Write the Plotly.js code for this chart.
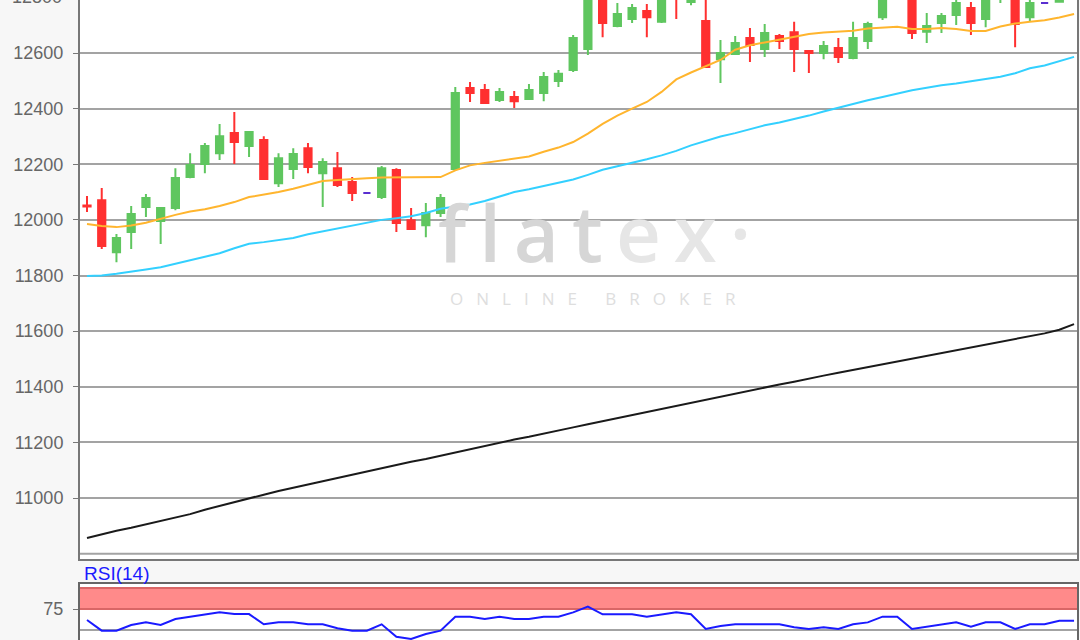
<!DOCTYPE html>
<html>
<head>
<meta charset="utf-8">
<script src="https://cdn.plot.ly/plotly-3.0.1.min.js"></script>
<style>html,body{margin:0;padding:0;background:#f7f7f7;}#chart{width:1080px;height:640px;}</style>
</head>
<body>
<div id="chart"></div>
<script>
// Candle data (index 0..67)
const idx = Array.from({length: 68}, (_, i) => i);
const openV  = [12052,12071,11884,11956,12046,11996,12043,12154,12201,12240,12312,12266,12287,12132,12183,12258,12168,12186,12136,12097,12082,12179,11999,11981,12025,12183,12474,12467,12431,12442,12435,12456,12499,12539,12614,12810,12697,12722,12751,12712,12845,12783,12715,12578,12596,12654,12614,12661,12675,12607,12600,12618,12582,12643,12729,12810,12815,12676,12708,12737,12762,12722,12800,12820,12729,12780,12784,12810];
const highV  = [12086,12115,11949,12050,12093,12046,12186,12240,12276,12345,12388,12316,12301,12240,12258,12276,12222,12244,12154,12097,12194,12186,12043,12061,12093,12478,12496,12489,12474,12463,12489,12532,12539,12665,12830,12830,12780,12776,12776,12815,12860,12810,12800,12647,12661,12690,12704,12668,12712,12607,12643,12654,12712,12712,12815,12850,12830,12744,12744,12795,12783,12820,12840,12830,12795,12780,12820,12840];
const lowV   = [12028,11895,11848,11895,12010,11913,12035,12150,12168,12215,12201,12226,12143,12118,12147,12168,12046,12118,12068,12097,12075,11956,11967,11938,12010,12180,12424,12420,12424,12402,12435,12427,12478,12532,12593,12657,12693,12708,12657,12708,12722,12772,12546,12492,12593,12568,12586,12614,12532,12528,12578,12564,12578,12614,12719,12800,12650,12636,12672,12701,12665,12693,12780,12621,12712,12780,12782,12800];
const closeV = [12048,11906,11935,12021,12079,12043,12151,12197,12266,12301,12280,12316,12147,12222,12237,12190,12208,12125,12097,12097,12186,11989,11967,12025,12079,12456,12456,12420,12460,12427,12467,12514,12525,12654,12805,12708,12740,12762,12729,12805,12800,12800,12550,12600,12636,12629,12672,12643,12614,12600,12625,12586,12654,12704,12805,12840,12672,12697,12733,12780,12708,12805,12830,12704,12780,12780,12810,12830];

// Moving averages
const sma20  = [11985,11978,11974,11980,11990,12005,12018,12030,12038,12050,12064,12082,12090,12100,12112,12125,12140,12143,12147,12150,12152,12153,12154,12154,12154,12178,12196,12205,12212,12220,12228,12245,12260,12280,12310,12345,12375,12400,12424,12460,12505,12530,12553,12575,12612,12628,12638,12648,12660,12668,12674,12678,12680,12688,12692,12694,12686,12686,12690,12686,12679,12679,12695,12706,12712,12718,12728,12740];
const sma50  = [11798,11800,11806,11815,11822,11830,11842,11854,11866,11880,11898,11914,11920,11928,11935,11948,11958,11970,11980,11990,12000,12006,12013,12025,12040,12048,12055,12068,12085,12100,12110,12122,12132,12145,12162,12180,12193,12205,12218,12232,12248,12268,12285,12300,12312,12326,12340,12350,12362,12375,12390,12404,12418,12430,12442,12455,12466,12475,12484,12490,12498,12505,12515,12527,12545,12555,12570,12586];
const sma200 = [10856,10870,10882,10893,10905,10918,10930,10942,10958,10972,10986,11000,11012,11025,11036,11048,11060,11072,11084,11096,11108,11118,11130,11140,11152,11163,11175,11186,11198,11210,11220,11232,11242,11254,11265,11276,11288,11300,11310,11322,11332,11343,11355,11366,11376,11388,11398,11408,11418,11430,11440,11450,11460,11470,11480,11490,11500,11510,11520,11530,11540,11550,11560,11570,11580,11592,11605,11625];

// RSI(14)
const rsi = [61.9,49.2,49.2,56.0,59.1,56.0,63.1,65.9,69.0,71.0,69.0,69.0,56.8,59.1,59.1,56.8,56.8,52.0,49.2,49.2,56.8,42.0,39.3,45.2,49.2,65.9,65.9,63.1,65.9,63.1,63.1,65.9,65.9,71.0,77.8,68.7,68.7,68.7,65.9,68.7,71.0,68.7,51.2,54.8,56.8,56.8,56.8,56.8,53.2,51.2,53.2,51.2,56.8,59.1,65.9,65.9,51.2,54.0,56.8,59.1,54.0,59.1,59.1,51.2,56.8,56.8,61.1,61.1];

const priceTicks = [11000,11200,11400,11600,11800,12000,12200,12400,12600,12800];
const rsiTicks = [75];

const isDoji = idx.map(i => openV[i] === closeV[i]);
const pick = (arr, flag) => idx.filter(i => isDoji[i] === flag).map(i => arr[i]);

const green = '#5fc65f', red = '#ff3030', purple = '#5a2fd0';

const traces = [
  {type:'scatter', mode:'lines', x: idx, y: sma200, line:{color:'#1a1a1a', width:2}, xaxis:'x', yaxis:'y'},
  {type:'scatter', mode:'lines', x: idx, y: sma50, line:{color:'#33d0ff', width:2}, xaxis:'x', yaxis:'y'},
  {type:'scatter', mode:'lines', x: idx, y: sma20, line:{color:'#ffb52e', width:2}, xaxis:'x', yaxis:'y'},
  {type:'candlestick', x: pick(idx,false), open: pick(openV,false), high: pick(highV,false), low: pick(lowV,false), close: pick(closeV,false),
   increasing:{line:{color:green, width:2}, fillcolor:green},
   decreasing:{line:{color:red, width:2}, fillcolor:red},
   whiskerwidth:0, xaxis:'x', yaxis:'y'},
  {type:'candlestick', x: pick(idx,true), open: pick(openV,true), high: pick(highV,true), low: pick(lowV,true), close: pick(closeV,true),
   increasing:{line:{color:purple, width:2}, fillcolor:purple},
   decreasing:{line:{color:purple, width:2}, fillcolor:purple},
   whiskerwidth:0, xaxis:'x', yaxis:'y'},
  {type:'scatter', mode:'lines', x: idx, y: rsi, line:{color:'#1a1aff', width:2}, xaxis:'x2', yaxis:'y2'}
];

const xr = [-0.475, 67.2];
const tickFont = {family:'Liberation Sans, Arial, sans-serif', size:18, color:'#666666'};
const layout = {
  width:1080, height:640,
  margin:{l:80, r:3, t:0, b:0},
  paper_bgcolor:'#f7f7f7', plot_bgcolor:'#ffffff',
  showlegend:false, hovermode:false,
  font:{family:'Liberation Sans, Arial, sans-serif', color:'#666666', size:18},
  xaxis:{domain:[0,1], range:xr, anchor:'y', showticklabels:false, ticks:'', showgrid:false, zeroline:false,
         showline:true, mirror:true, linecolor:'#777777', linewidth:2, rangeslider:{visible:false}, fixedrange:true},
  xaxis2:{domain:[0,1], range:xr, anchor:'y2', matches:'x', showticklabels:false, ticks:'', showgrid:false, zeroline:false,
         showline:true, mirror:true, linecolor:'#666666', linewidth:2},
  yaxis:{domain:[81/640, 1], range:[10780.7, 12790.6], tickvals: priceTicks, tickformat:'d', ticks:'outside', ticklen:5, tickcolor:'#777777', tickwidth:1,
         showgrid:true, gridcolor:'#a3a3a3', gridwidth:2, zeroline:false, showline:true, mirror:true, linecolor:'#777777', linewidth:2,
         tickfont:tickFont, ticklabelstandoff:6},
  yaxis2:{domain:[0, 56/640], range:[38.1, 104.8], tickvals: rsiTicks, tickformat:'d', ticks:'outside', ticklen:5, tickcolor:'#777777',
         showgrid:false, zeroline:false, showline:true, mirror:true, linecolor:'#666666', linewidth:2,
         tickfont:tickFont, ticklabelstandoff:6},
  shapes:[
    {type:'line', xref:'x domain', yref:'y', x0:0, x1:1, y0:10800, y1:10800, line:{color:'#a3a3a3', width:2}, layer:'below'},
    {type:'rect', xref:'x2 domain', yref:'y2', x0:0, x1:1, y0:75, y1:100, fillcolor:'#ff8a8a', line:{width:0}, layer:'below'},
    {type:'line', xref:'x2 domain', yref:'y2', x0:0, x1:1, y0:75, y1:75, line:{color:'#d96666', width:2}, layer:'below'},
    {type:'line', xref:'x2 domain', yref:'y2', x0:0, x1:1, y0:100, y1:100, line:{color:'#d96666', width:2}, layer:'below'},
    {type:'line', xref:'x2 domain', yref:'y2', x0:0, x1:1, y0:50, y1:50, line:{color:'#a3a3a3', width:2}, layer:'below'}
  ],
  annotations:[
    {xref:'paper', yref:'paper', x:(594-80)/997, y:(640-232)/640, xanchor:'center', yanchor:'middle', showarrow:false,
     text:'<span style="color:#d6d6d6">f\u2009l\u2009a\u2009t\u2009</span><span style="color:#e6e6e6">e\u2009x\u2009·</span>',
     font:{family:'Open Sans, sans-serif', size:78, weight:600, color:'#dddddd'}},
    {xref:'paper', yref:'paper', x:(593-80)/997, y:(640-298)/640, xanchor:'center', yanchor:'middle', showarrow:false,
     text:'O\u2002\u2009\u200aN\u2002\u2009\u200aL\u2002\u2009\u200aI\u2002\u2009\u200aN\u2002\u2009\u200aE\u2003\u2002\u2009B\u2002\u2009\u200aR\u2002\u2009\u200aO\u2002\u2009\u200aK\u2002\u2009\u200aE\u2002\u2009\u200aR',
     font:{family:'Open Sans, sans-serif', size:17, color:'#dedede'}},
    {xref:'paper', yref:'paper', x:(82-80)/997, y:(640-573)/640, xanchor:'left', yanchor:'middle', showarrow:false,
     text:'RSI(14)', font:{family:'Liberation Sans, Arial, sans-serif', size:19, color:'#1a1aff'}},
    {xref:'paper', yref:'paper', x:(64-80)/997, y:(640+3)/640, xanchor:'right', yanchor:'middle', showarrow:false,
     text:'12800', font:tickFont}
  ]
};

Plotly.newPlot('chart', traces, layout, {displayModeBar:false, staticPlot:true});
</script>
</body>
</html>
